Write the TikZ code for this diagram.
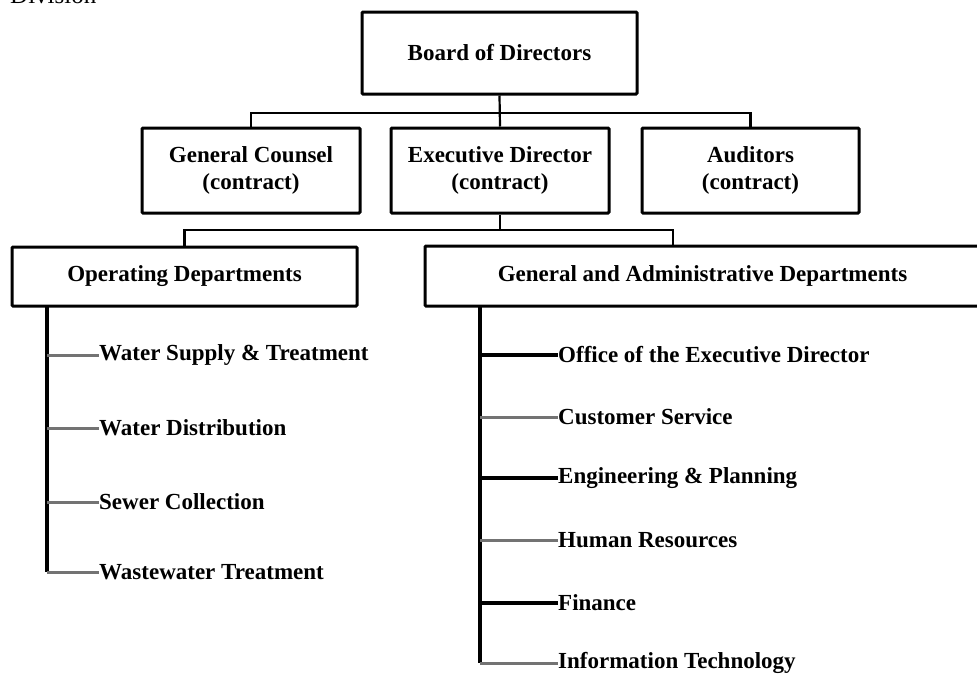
\documentclass[tikz,border=0pt]{standalone}
\usepackage{fontspec}
\setmainfont{Liberation Serif}
\begin{document}
\begin{tikzpicture}[x=1pt,y=1pt,
  box/.style={draw=black, line width=3pt, rounded corners=1pt, inner sep=0pt, align=center,
    font=\bfseries\fontsize{23}{27}\selectfont},
  item/.style={anchor=west, inner sep=0pt, font=\bfseries\fontsize{23}{27}\selectfont},
  conn/.style={draw=black, line width=2.2pt},
  trunk/.style={draw=black, line width=3.5pt},
  thinbr/.style={draw=black!55, line width=3pt},
  thickbr/.style={draw=black, line width=4.5pt}]
\useasboundingbox (0,0) rectangle (977,-673);
\fill[white] (0,0) rectangle (977,-673);

\node[anchor=base west, inner sep=0pt, font=\fontsize{25}{30}\selectfont] (div) at (10,-3) {Division};

\node[box, minimum width=275pt, minimum height=82pt] (board) at (499.5,-53) {Board of Directors};
\node[box, minimum width=218pt, minimum height=85pt] (gc) at (251,-170.5) {General Counsel\\(contract)};
\node[box, minimum width=218pt, minimum height=85pt] (ed) at (500,-170.5) {Executive Director\\(contract)};
\node[box, minimum width=217pt, minimum height=85pt] (aud) at (750.5,-170.5) {Auditors\\(contract)};
\node[box, minimum width=345pt, minimum height=59pt] (op) at (184.5,-276.5) {Operating Departments};
\node[box, minimum width=555pt, minimum height=60pt] (ga) at (702.5,-276) {General and Administrative Departments};

\coordinate (j1) at (500,-113);
\coordinate (j2) at (673,-230);
\draw[conn] (board.south) -- (ed.north);
\draw[conn] (gc.north) |- (j1) -| (aud.north);
\draw[conn] (ed.south) -- (ed.south |- j2);
\draw[conn] (op.north) |- (j2) -- (j2 |- ga.north);

% operating departments
\node[item] (ws) at (99,-355) {Water Supply \& Treatment};
\node[item] (wd) at (99,-428) {Water Distribution};
\node[item] (sc) at (99,-502) {Sewer Collection};
\node[item] (wt) at (99,-572) {Wastewater Treatment};
\coordinate (lv) at (47,-306);
\draw[trunk] (lv) -- (lv |- wt.west);
\draw[thinbr] (lv |- ws.west) -- (ws.west);
\draw[thinbr] (lv |- wd.west) -- (wd.west);
\draw[thinbr] (lv |- sc.west) -- (sc.west);
\draw[thinbr] (lv |- wt.west) -- (wt.west);

% general and administrative departments
\node[item] (oed) at (558,-355) {Office of the Executive Director};
\node[item] (cs) at (558,-417) {Customer Service};
\node[item] (ep) at (558,-478) {Engineering \& Planning};
\node[item] (hr) at (558,-540) {Human Resources};
\node[item] (fi) at (558,-603) {Finance};
\node[item] (it) at (558,-663) {Information Technology};
\coordinate (rv) at (480,-306);
\draw[trunk, line width=4pt] (rv) -- (rv |- it.west);
\draw[thickbr] (rv |- oed.west) -- (oed.west);
\draw[thinbr] (rv |- cs.west) -- (cs.west);
\draw[thickbr] (rv |- ep.west) -- (ep.west);
\draw[thinbr] (rv |- hr.west) -- (hr.west);
\draw[thickbr] (rv |- fi.west) -- (fi.west);
\draw[thinbr] (rv |- it.west) -- (it.west);
\end{tikzpicture}
\end{document}
